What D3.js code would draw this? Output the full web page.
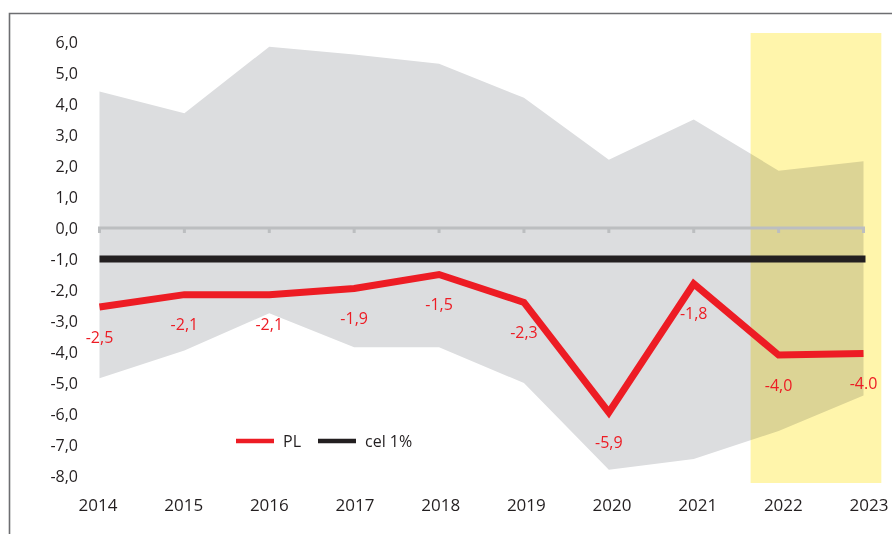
<!DOCTYPE html>
<html><head><meta charset="utf-8">
<script src="https://cdn.jsdelivr.net/npm/d3@7"></script>
<style>
body{margin:0;background:#fff;}
svg{display:block;font-family:"Open Sans",sans-serif;}
</style></head>
<body><svg id="c" width="892" height="534"></svg>
<script>
const years = [2014,2015,2016,2017,2018,2019,2020,2021,2022,2023];
const plValues = [-2.55,-2.15,-2.15,-1.95,-1.5,-2.4,-5.95,-1.8,-4.1,-4.05];
const plLabels = ["-2,5","-2,1","-2,1","-1,9","-1,5","-2,3","-5,9","-1,8","-4,0","-4.0"];
const bandUpper = [4.4,3.7,5.85,5.6,5.3,4.2,2.2,3.5,1.85,2.15];
const bandLower = [-4.85,-3.95,-2.75,-3.85,-3.85,-5.0,-7.8,-7.45,-6.55,-5.4];
const targetValue = -1.0;
const yTicks = [6,5,4,3,2,1,0,-1,-2,-3,-4,-5,-6,-7,-8];
const forecastYears = [2022,2023];
const legendItems = [{name:"PL",color:"#ed1c24"},{name:"cel 1%",color:"#231f20"}];

const svg = d3.select("#c");
const x = d3.scalePoint().domain(years).range([99.5,863.5]);
const xLab = d3.scalePoint().domain(years).range([98,869]);
const y = d3.scaleLinear().domain([-8,6]).range([476,42]);

// frame
svg.append("path").attr("d","M9.5,534V13.5H892").attr("fill","none").attr("stroke","#6d6e71").attr("stroke-width",1.6);

// band
const area = d3.area().x((d,i)=>x(years[i])).y0((d,i)=>y(bandLower[i])).y1(d=>y(d));
svg.append("path").datum(bandUpper).attr("d",area).attr("fill","#dcdddf");

// forecast highlight
const step = x.step();
svg.append("rect")
  .attr("x", x(forecastYears[0]) - step*0.33)
  .attr("width", x(forecastYears[1]) - x(forecastYears[0]) + step*0.33 + step*0.21)
  .attr("y", 33).attr("height", 450)
  .attr("fill","#fff5ab").style("mix-blend-mode","multiply");

// zero axis line with ticks
svg.append("line").attr("x1",x(years[0])-1.5).attr("x2",x(years[years.length-1])+1.5)
  .attr("y1",y(0)).attr("y2",y(0)).attr("stroke","#bcbec0").attr("stroke-width",3);
svg.selectAll(".tk").data(years).join("line").attr("class","tk")
  .attr("x1",d=>x(d)).attr("x2",d=>x(d)).attr("y1",y(0)).attr("y2",y(0)+5)
  .attr("stroke","#bcbec0").attr("stroke-width",3);

// y tick labels
svg.selectAll(".yl").data(yTicks).join("text").attr("class","yl")
  .attr("x",78).attr("y",d=>y(d)).attr("dy","0.35em").attr("text-anchor","end")
  .attr("font-size",16).attr("fill","#231f20")
  .text(d=>d3.format(".1f")(d).replace(".",",").replace("−","-"));

// x labels
svg.selectAll(".xl").data(years).join("text").attr("class","xl")
  .attr("x",d=>xLab(d)).attr("y",505).attr("dy","0.35em").attr("text-anchor","middle")
  .attr("font-size",17).attr("fill","#231f20").text(d=>d);

// target line
svg.append("line").attr("x1",x(years[0])).attr("x2",x(years[years.length-1])+2)
  .attr("y1",y(targetValue)).attr("y2",y(targetValue)).attr("stroke","#231f20").attr("stroke-width",7);

// PL line
const line = d3.line().x((d,i)=>x(years[i])).y(d=>y(d));
svg.append("path").datum(plValues).attr("d",line).attr("fill","none")
  .attr("stroke","#ed1c24").attr("stroke-width",7).attr("stroke-linejoin","miter");

// data labels
svg.selectAll(".dl").data(plValues).join("text").attr("class","dl")
  .attr("x",(d,i)=>x(years[i]))
  .attr("y",d=>y(d)+30).attr("dy","0.35em").attr("text-anchor","middle")
  .attr("font-size",16).attr("fill","#ed1c24").text((d,i)=>plLabels[i]);

// legend
const lg = svg.append("g").attr("transform","translate(236,441)");
const li = lg.selectAll("g").data(legendItems).join("g").attr("transform",(d,i)=>`translate(${i*82},0)`);
li.append("line").attr("x1",0).attr("x2",38).attr("stroke",d=>d.color).attr("stroke-width",4.5);
li.append("text").attr("x",47).attr("dy","0.35em").attr("font-size",16).attr("fill","#231f20").text(d=>d.name);
</script></body></html>
